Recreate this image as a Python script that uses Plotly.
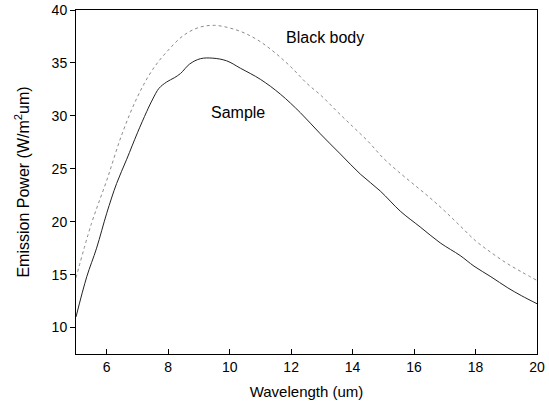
import plotly.graph_objects as go

# Black body curve
bb_x = [5.0, 5.5, 6.0, 6.5, 7.0, 7.5, 8.0, 8.5, 9.0, 9.5, 10.0, 10.5, 11.0, 11.5, 12.0,
        12.5, 13.0, 13.5, 14.0, 14.5, 15.0, 15.5, 16.0, 16.5, 17.0, 17.5, 18.0, 18.5,
        19.0, 19.5, 20.0]
bb_y = [14.7, 19.8, 23.9, 28.3, 31.8, 34.4, 36.2, 37.6, 38.35, 38.55, 38.3, 37.8, 37.0,
        35.9, 34.6, 33.1, 31.85, 30.4, 29.0, 27.6, 26.0, 24.7, 23.5, 22.3, 21.0, 19.6,
        18.2, 17.1, 16.1, 15.25, 14.45]

# Sample curve
s_x = [5.0, 5.35, 5.67, 6.0, 6.32, 6.65, 7.0, 7.3, 7.5, 7.7, 7.95, 8.2, 8.4, 8.7, 9.05,
       9.45, 9.9, 10.35, 11.0, 11.65, 12.3, 12.95, 13.6, 14.25, 14.9, 15.55, 16.2,
       16.85, 17.5, 17.95, 18.5, 19.05, 19.5, 20.0]
s_y = [11.0, 14.8, 17.5, 20.8, 23.6, 25.9, 28.4, 30.4, 31.6, 32.6, 33.2, 33.6, 34.0,
       34.9, 35.4, 35.45, 35.2, 34.5, 33.45, 32.05, 30.3, 28.3, 26.4, 24.5, 22.9, 21.0,
       19.5, 18.0, 16.8, 15.8, 14.8, 13.75, 13.0, 12.25]

x_ticks = [6, 8, 10, 12, 14, 16, 18, 20]
y_ticks = [10, 15, 20, 25, 30, 35, 40]

fig = go.Figure()
fig.add_trace(go.Scatter(x=bb_x, y=bb_y, mode="lines", name="Black body",
                         line=dict(color="#8a8a8a", width=1, dash="dot", shape="spline")))
fig.add_trace(go.Scatter(x=s_x, y=s_y, mode="lines", name="Sample",
                         line=dict(color="#222222", width=1, shape="spline")))

fig.add_annotation(x=13.1, y=37.4, text="Black body", showarrow=False,
                   font=dict(size=16, color="black"))
fig.add_annotation(x=10.26, y=30.35, text="Sample", showarrow=False,
                   font=dict(size=16, color="black"))

axis_common = dict(showgrid=False, zeroline=False, showline=True, linecolor="black",
                   linewidth=1, mirror=True, tickcolor="black", ticklen=5,
                   automargin=False, tickfont=dict(size=14, color="black"))

fig.update_xaxes(range=[5, 20], tickvals=x_ticks, ticks="inside",
                 title=dict(text="Wavelength (um)", font=dict(size=15, color="black"), standoff=12),
                 **axis_common)
fig.update_yaxes(range=[7.5, 40], tickvals=y_ticks, ticks="outside",
                 title=dict(text="Emission Power (W/m<sup>2</sup>um)",
                            font=dict(size=16, color="black"), standoff=18),
                 **axis_common)

fig.update_layout(width=549, height=407, showlegend=False,
                  margin=dict(l=76, r=12, t=10, b=53, autoexpand=False),
                  plot_bgcolor="white", paper_bgcolor="white",
                  font=dict(family="Liberation Sans, Arial, sans-serif", color="black"))

fig.write_html("out.html", config={"displayModeBar": False},
               post_script="document.body.style.margin='0';")
